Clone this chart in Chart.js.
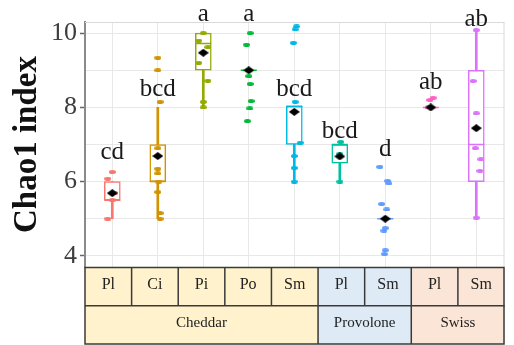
<!DOCTYPE html>
<html>
<head>
<meta charset="utf-8">
<script src="https://cdn.jsdelivr.net/npm/chart.js@4/dist/chart.umd.min.js"></script>
<style>
  html, body { margin: 0; padding: 0; background: #ffffff; }
  #wrap { width: 514px; height: 345px; }
</style>
</head>
<body>
<div id="wrap"><canvas id="chart" width="514" height="345"></canvas></div>
<script>
// ---- groups along the x axis ----
const cheeses = ['Cheddar', 'Provolone', 'Swiss'];
const cheeseSpan = [5, 2, 2];
const treatments = ['Pl', 'Ci', 'Pi', 'Po', 'Sm', 'Pl', 'Sm', 'Pl', 'Sm'];

// ---- significance letters and the value each letter's baseline sits at ----
const letters = ['cd', 'bcd', 'a', 'a', 'bcd', 'bcd', 'd', 'ab', 'ab'];
const letterY = [6.60, 8.30, 10.33, 10.33, 8.30, 7.18, 6.69, 8.49, 10.19];

// ---- box-plot summaries (null = no box drawn) ----
const whiskerLow  = [5.0, 5.0, 8.0, null, 6.0, 6.0, null, null, 5.0];
const whiskerHigh = [6.0, 8.0, 10.0, null, 8.03, 7.0, null, null, 10.08];
const q1          = [5.5, 6.0, 9.0, null, 7.0, 6.5, null, null, 6.0];
const q3          = [6.0, 7.0, 10.0, null, 8.03, 7.0, null, null, 9.0];
const medians     = [5.5, 6.0, 9.72, 9.0, 8.03, 7.0, 5.0, 8.0, 7.0];
const means       = [5.69, 6.69, 9.47, 9.0, 7.88, 6.68, 5.0, 8.0, 7.44];

// ---- individual samples per group, with horizontal jitter in group units ----
const samples = [
  [6.26, 6.08, 5.7, 5.5, 5.0],
  [9.34, 9.0, 8.15, 6.9, 6.35, 6.22, 6.0, 5.72, 5.15, 5.0],
  [10.0, 9.8, 9.62, 9.2, 8.72, 8.15, 8.0],
  [10.0, 9.69, 9.0, 8.84, 8.63, 8.17, 7.97, 7.63],
  [10.18, 10.1, 9.74, 8.15, 7.05, 6.69, 6.37, 6.0],
  [7.07, 6.75, 6.0],
  [6.4, 6.02, 5.95, 5.4, 5.25, 4.75, 4.68, 4.15, 4.05],
  [8.26, 8.2, 8.0],
  [10.08, 8.71, 7.84, 6.9, 6.6, 6.29, 5.03]
];
const jitter = [
  [0.0, -0.1, 0.05, 0.0, -0.1],
  [0.0, 0.0, 0.05, 0.0, 0.0, 0.0, 0.02, 0.0, 0.05, 0.05],
  [0.0, -0.1, 0.1, -0.1, 0.1, 0.0, 0.0],
  [0.03, -0.05, 0.0, 0.0, 0.03, 0.05, 0.02, -0.03],
  [0.05, 0.02, -0.02, 0.02, 0.13, 0.0, 0.0, 0.0],
  [0.02, 0.0, 0.0],
  [-0.12, 0.05, 0.08, -0.08, 0.03, 0.0, -0.03, 0.0, -0.02],
  [0.05, -0.02, -0.05],
  [0.0, -0.07, 0.0, -0.02, 0.1, 0.08, 0.0]
];

// ---- y axis ticks ----
const yTicks = [4, 5, 6, 7, 8, 9, 10];
const yLabelled = [4, 6, 8, 10];

// ---- styling ----
const groupColors = ['#F8766D', '#D39200', '#93AA00', '#00BA38', '#00B9E3',
                     '#00C19F', '#619CFF', '#FF61C3', '#DB72FB'];
const cheeseFill = ['#FFF2CC', '#DEEBF7', '#FBE5D6'];
const serif = "'Liberation Serif', 'DejaVu Serif', serif";

// small sprites for the sample dots and the mean diamonds
function ellipseSprite(color, w, h) {
  const c = document.createElement('canvas');
  c.width = w; c.height = h;
  const g = c.getContext('2d');
  g.fillStyle = color;
  g.beginPath();
  g.ellipse(w / 2, h / 2, w / 2, h / 2, 0, 0, Math.PI * 2);
  g.fill();
  return c;
}
function diamondSprite(color, w, h) {
  const c = document.createElement('canvas');
  c.width = w; c.height = h;
  const g = c.getContext('2d');
  g.fillStyle = color;
  g.beginPath();
  g.moveTo(w / 2, 0); g.lineTo(w, h / 2); g.lineTo(w / 2, h); g.lineTo(0, h / 2);
  g.closePath();
  g.fill();
  return c;
}
const dotSprites = groupColors.map(c => ellipseSprite(c, 7, 4));
const meanSprite = diamondSprite('#000000', 11, 8);

// ---- datasets built from the arrays above ----
const whiskerData = [];
const boxData = [];
treatments.forEach((_, i) => {
  if (whiskerLow[i] != null) whiskerData.push({ x: i, y: [whiskerLow[i], whiskerHigh[i]] });
  if (q1[i] != null) boxData.push({ x: i, y: [q1[i], q3[i]] });
});
const pointData = [];
samples.forEach((vals, i) => vals.forEach((v, k) => pointData.push({ x: i + jitter[i][k], y: v, g: i })));
const medianData = medians.map((m, i) => ({ x: i, y: m }));
const meanData = means.map((m, i) => ({ x: i, y: m }));

// light frame around the plotting panel
const panelFrame = {
  id: 'panelFrame',
  beforeDatasetsDraw(chart) {
    const { ctx, chartArea: a } = chart;
    ctx.save();
    ctx.strokeStyle = '#DADADA';
    ctx.lineWidth = 1;
    ctx.beginPath();
    ctx.moveTo(a.left, a.top + 0.5); ctx.lineTo(a.right, a.top + 0.5);
    ctx.moveTo(a.right - 0.5, a.top); ctx.lineTo(a.right - 0.5, a.bottom);
    ctx.stroke();
    ctx.restore();
  }
};

// significance letters above each group
const letterPlugin = {
  id: 'letters',
  afterDatasetsDraw(chart) {
    const { ctx, scales: { x, y } } = chart;
    ctx.save();
    ctx.font = '25px ' + serif;
    ctx.fillStyle = '#1a1a1a';
    ctx.textAlign = 'center';
    ctx.textBaseline = 'alphabetic';
    letters.forEach((t, i) => ctx.fillText(t, x.getPixelForValue(i), y.getPixelForValue(letterY[i])));
    ctx.restore();
  }
};

// two-row table of treatments and cheeses under the panel
const groupTable = {
  id: 'groupTable',
  afterDraw(chart) {
    const { ctx, chartArea: a } = chart;
    const top = a.bottom + 0.5, bottom = chart.height - 1;
    const mid = top + (bottom - top) / 2;
    const n = treatments.length;
    const w = (a.right - a.left) / n;
    ctx.save();
    let col = 0;
    cheeses.forEach((name, k) => {
      const x0 = a.left + col * w, x1 = a.left + (col + cheeseSpan[k]) * w;
      ctx.fillStyle = cheeseFill[k];
      ctx.fillRect(x0, top, x1 - x0, bottom - top);
      col += cheeseSpan[k];
    });
    ctx.strokeStyle = '#3a3a3a';
    ctx.lineWidth = 1.5;
    ctx.strokeRect(a.left, top, a.right - a.left - 0.5, bottom - top);
    ctx.beginPath();
    ctx.moveTo(a.left, mid); ctx.lineTo(a.right, mid);
    for (let i = 1; i < n; i++) {
      const xx = a.left + i * w;
      ctx.moveTo(xx, top); ctx.lineTo(xx, mid);
    }
    col = 0;
    cheeseSpan.forEach((s, k) => {
      col += s;
      if (k < cheeseSpan.length - 1) {
        const xx = a.left + col * w;
        ctx.moveTo(xx, mid); ctx.lineTo(xx, bottom);
      }
    });
    ctx.stroke();

    ctx.fillStyle = '#222222';
    ctx.textAlign = 'center';
    ctx.textBaseline = 'middle';
    ctx.font = '16px ' + serif;
    treatments.forEach((t, i) => ctx.fillText(t, a.left + (i + 0.5) * w, top + (mid - top) / 2 - 1.5));
    ctx.font = '15px ' + serif;
    col = 0;
    cheeses.forEach((name, k) => {
      const cx = a.left + (col + cheeseSpan[k] / 2) * w;
      ctx.fillText(name, cx, mid + (bottom - mid) / 2 - 2);
      col += cheeseSpan[k];
    });
    ctx.restore();
  }
};

new Chart(document.getElementById('chart'), {
  type: 'scatter',
  data: {
    datasets: [
      {
        type: 'bar', label: 'whiskers', data: whiskerData, order: 5, grouped: false,
        barThickness: 2, borderWidth: 0,
        backgroundColor: c => groupColors[c.raw ? c.raw.x : 0]
      },
      {
        type: 'bar', label: 'boxes', data: boxData, order: 4, grouped: false,
        barThickness: 16, borderWidth: 1.5, borderSkipped: false,
        backgroundColor: '#ffffff',
        borderColor: c => groupColors[c.raw ? c.raw.x : 0]
      },
      {
        type: 'scatter', label: 'median', data: medianData, order: 3,
        pointStyle: 'line', pointRadius: 8, pointBorderWidth: 1.5,
        pointBorderColor: groupColors, pointBackgroundColor: groupColors
      },
      {
        type: 'scatter', label: 'samples', data: pointData, order: 2,
        pointRadius: 3,
        pointStyle: c => dotSprites[c.raw ? c.raw.g : 0]
      },
      {
        type: 'scatter', label: 'mean', data: meanData, order: 1,
        pointRadius: 4, pointStyle: meanSprite
      }
    ]
  },
  options: {
    responsive: false,
    animation: false,
    layout: { padding: { left: 0, right: 2, top: 22, bottom: 78 } },
    plugins: { legend: { display: false }, tooltip: { enabled: false } },
    scales: {
      x: {
        type: 'linear', min: -0.6, max: 8.62, offset: false,
        afterBuildTicks: s => { s.ticks = treatments.map((_, i) => ({ value: i })); },
        afterFit: s => { s.height = 0; },
        ticks: { display: false },
        border: { display: false },
        grid: { color: '#E8E8E8', lineWidth: 1, drawTicks: false, offset: false }
      },
      y: {
        type: 'linear', min: 3.7, max: 10.3,
        afterBuildTicks: s => { s.ticks = yTicks.map(v => ({ value: v })); },
        afterFit: s => { s.width = 85; },
        ticks: {
          padding: 3,
          color: '#3d3d3d',
          font: { family: serif, size: 26 },
          callback: v => (yLabelled.includes(v) ? String(v) : '')
        },
        border: { display: true, color: '#8a8a8a', width: 2 },
        grid: {
          color: '#E8E8E8', lineWidth: 1, tickLength: 5, tickWidth: 1.5,
          tickColor: c => (yLabelled.includes(c.tick.value) ? '#666666' : 'rgba(0,0,0,0)')
        },
        title: {
          display: true, text: 'Chao1 index', color: '#111111',
          font: { family: serif, size: 33, weight: 'bold' },
          padding: { top: 8, bottom: 0 }
        }
      }
    }
  },
  plugins: [panelFrame, letterPlugin, groupTable]
});
</script>
</body>
</html>
